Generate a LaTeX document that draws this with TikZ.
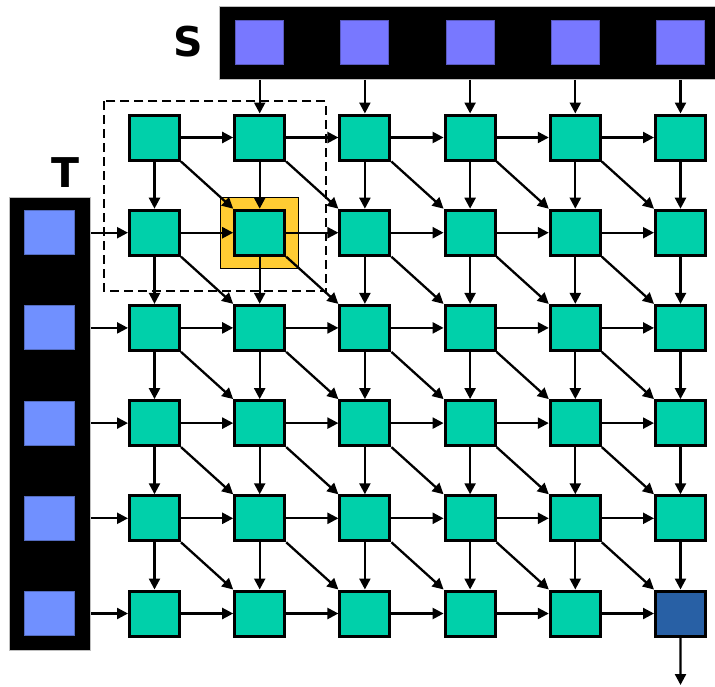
\documentclass[tikz,border=0pt]{standalone}
\usepackage{fontspec}
\setmainfont{DejaVu Sans}
\usetikzlibrary{arrows.meta}
\definecolor{cell}{RGB}{0,208,170}
\definecolor{sq}{RGB}{120,120,255}
\definecolor{tq}{RGB}{112,144,255}
\definecolor{hl}{RGB}{255,204,51}
\definecolor{fin}{RGB}{40,96,165}
\begin{document}
\begin{tikzpicture}[x=1pt,y=-1pt,
  cellbox/.style={draw=black,line width=3pt,minimum width=50pt,minimum height=45pt,inner sep=0pt},
  sqbox/.style={line width=1pt,minimum width=48pt,minimum height=44pt,inner sep=0pt},
  ar/.style={line width=2.3pt,-{Triangle[length=11pt,width=11pt]}},
  barbox/.style={fill=black,draw=gray!50,line width=0.8pt,inner sep=0pt,anchor=north west},
  lbl/.style={font=\bfseries\fontsize{41}{41}\selectfont,inner sep=0pt}]
\useasboundingbox (0,0) rectangle (715,686);
% bars
\node[barbox,minimum width=497pt,minimum height=73pt] (sbar) at (219.3,6) {};
\node[barbox,minimum width=81pt,minimum height=453pt] (tbar) at (9,196.7) {};
\node[lbl] (slabel) at (188.5,42) {S};
\node[lbl] (tlabel) at (65,172.5) {T};
\foreach \c in {2,...,6}{
  \pgfmathsetmacro\xx{154.5+105.2*(\c-1)}
  \node[sqbox,fill=sq,draw=sq!75!black] (s-\c) at (\xx,42.5) {};
}
\foreach \r in {2,...,6}{
  \pgfmathsetmacro\yy{137.5+95.2*(\r-1)}
  \node[sqbox,fill=tq,draw=tq!75!black,minimum width=50pt] (t-\r) at (49,\yy) {};
}
% highlight
\node[fill=hl,draw=black,line width=1.2pt,minimum width=78pt,minimum height=71pt,inner sep=0pt] (hl) at (259.5,232.8) {};
% dashed selection
\draw[line width=2pt,dash pattern=on 9pt off 5pt] (104,101) rectangle (325.7,291);
% cells
\foreach \r in {1,...,6}{
  \foreach \c in {1,...,6}{
    \pgfmathsetmacro\xx{154.5+105.2*(\c-1)}
    \pgfmathsetmacro\yy{137.5+95.2*(\r-1)}
    \edef\fc{\ifnum\r\c=66 fin\else cell\fi}
    \node[cellbox,fill=\fc] (n-\r-\c) at (\xx,\yy) {};
  }
}
% arrows
\foreach \r in {1,...,6}{
  \foreach \c in {1,...,5}{
    \pgfmathtruncatemacro\cc{\c+1}
    \draw[ar] (n-\r-\c.east) -- (n-\r-\cc.west);
  }
}
\foreach \r in {1,...,5}{
  \pgfmathtruncatemacro\rr{\r+1}
  \foreach \c in {1,...,6}{
    \draw[ar] (n-\r-\c.south) -- (n-\rr-\c.north);
  }
  \foreach \c in {1,...,5}{
    \pgfmathtruncatemacro\cc{\c+1}
    \draw[ar] (n-\r-\c.south east) -- (n-\rr-\cc.north west);
  }
}
\foreach \c in {2,...,6}{
  \draw[ar] (s-\c |- sbar.south) -- (n-1-\c.north);
}
\foreach \r in {2,...,6}{
  \draw[ar] (tbar.east |- t-\r) -- (n-\r-1.west);
}
\coordinate (out) at (680.5,685);
\draw[ar] (n-6-6.south) -- (out);
\end{tikzpicture}
\end{document}
